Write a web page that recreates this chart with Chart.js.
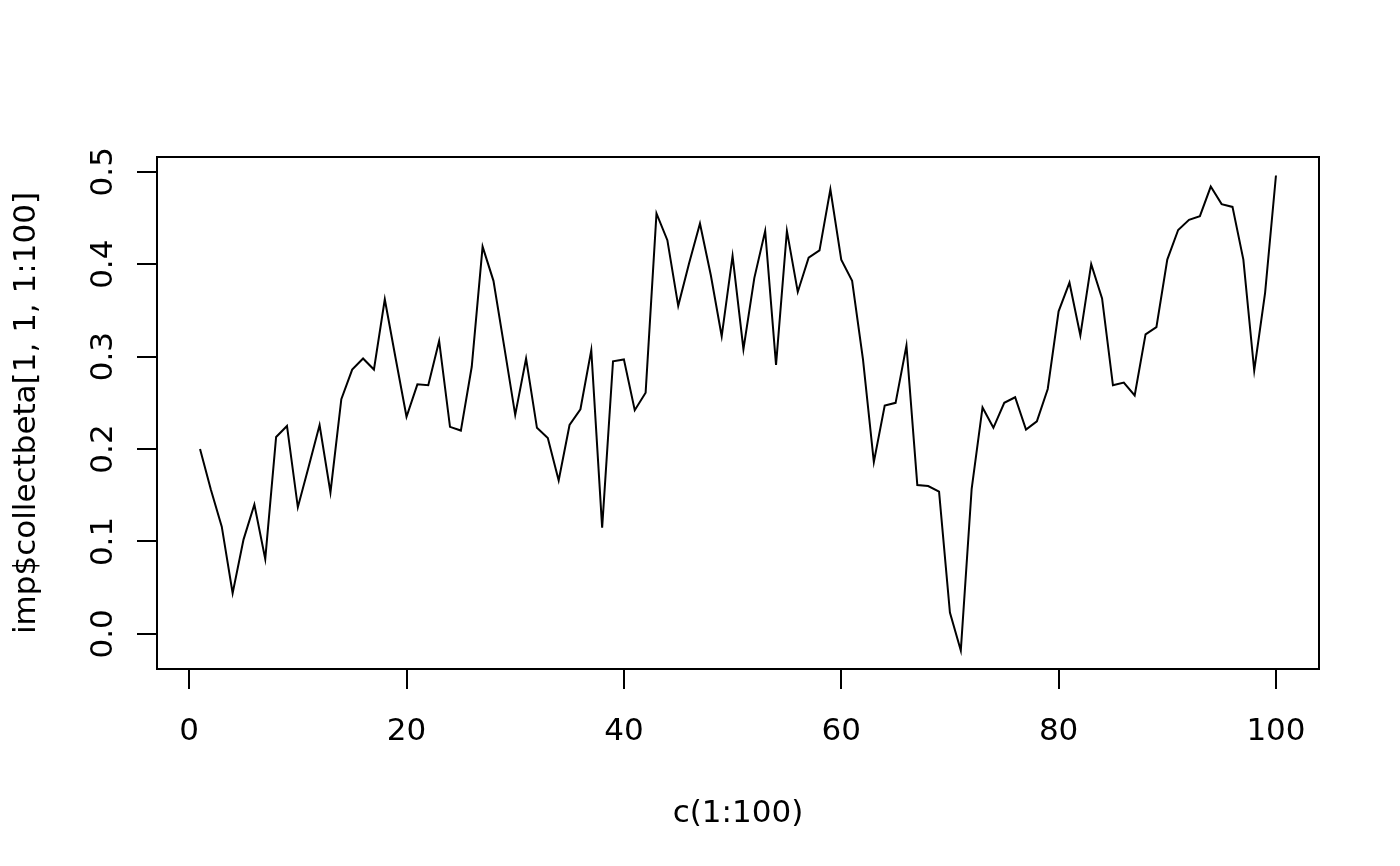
<!DOCTYPE html>
<html>
<head>
<meta charset="utf-8">
<script src="https://cdn.jsdelivr.net/npm/chart.js@4"></script>
<style>
  html, body { margin: 0; padding: 0; background: #fff; }
  canvas { display: block; }
</style>
</head>
<body>
<canvas id="betaChart" width="1400" height="866"></canvas>
<script>
// index c(1:100)
const xIndex = [
  1, 2, 3, 4, 5, 6, 7, 8, 9, 10, 11, 12, 13, 14, 15, 16, 17, 18, 19, 20,
  21, 22, 23, 24, 25, 26, 27, 28, 29, 30, 31, 32, 33, 34, 35, 36, 37, 38, 39, 40,
  41, 42, 43, 44, 45, 46, 47, 48, 49, 50, 51, 52, 53, 54, 55, 56, 57, 58, 59, 60,
  61, 62, 63, 64, 65, 66, 67, 68, 69, 70, 71, 72, 73, 74, 75, 76, 77, 78, 79, 80,
  81, 82, 83, 84, 85, 86, 87, 88, 89, 90, 91, 92, 93, 94, 95, 96, 97, 98, 99, 100
];

// imp$collectbeta[1, 1, 1:100]
const betaValues = [
  0.200, 0.156, 0.116, 0.044, 0.102, 0.140, 0.081, 0.213, 0.225, 0.137,
  0.181, 0.226, 0.153, 0.254, 0.286, 0.298, 0.286, 0.362, 0.298, 0.235,
  0.270, 0.269, 0.317, 0.224, 0.220, 0.289, 0.419, 0.382, 0.310, 0.237,
  0.298, 0.223, 0.212, 0.166, 0.226, 0.243, 0.307, 0.115, 0.295, 0.297,
  0.242, 0.261, 0.455, 0.426, 0.355, 0.401, 0.444, 0.388, 0.322, 0.409,
  0.308, 0.385, 0.436, 0.291, 0.436, 0.370, 0.407, 0.415, 0.481, 0.405,
  0.382, 0.297, 0.186, 0.247, 0.250, 0.312, 0.161, 0.160, 0.154, 0.023,
  -0.018, 0.157, 0.245, 0.223, 0.250, 0.256, 0.221, 0.230, 0.265, 0.349,
  0.380, 0.323, 0.400, 0.363, 0.269, 0.272, 0.258, 0.324, 0.332, 0.405,
  0.437, 0.448, 0.452, 0.484, 0.465, 0.462, 0.405, 0.285, 0.369, 0.496
];

const xTicks = [0, 20, 40, 60, 80, 100];
const yTicks = [0.0, 0.1, 0.2, 0.3, 0.4, 0.5];
const xTitle = 'c(1:100)';
const yTitle = 'imp$collectbeta[1, 1, 1:100]';

const FONT = '31px "DejaVu Sans"';

// Axes dessinés à la main, façon R (boîte + ticks vers l'extérieur)
const rAxes = {
    id: 'rAxes',
    afterDraw(chart) {
        const c = chart.ctx;
        const area = chart.chartArea;
        const xs = chart.scales.x;
        const ys = chart.scales.y;
        c.save();
        c.strokeStyle = '#000';
        c.fillStyle = '#000';
        c.lineWidth = 2;

        // boîte
        c.strokeRect(area.left, area.top, area.right - area.left, area.bottom - area.top);

        // axe x
        c.beginPath();
        xTicks.forEach(v => {
            const px = Math.round(xs.getPixelForValue(v));
            c.moveTo(px, area.bottom);
            c.lineTo(px, area.bottom + 20);
        });
        c.stroke();
        c.font = FONT;
        c.textAlign = 'center';
        c.textBaseline = 'alphabetic';
        xTicks.forEach(v => {
            c.fillText(String(v), xs.getPixelForValue(v), area.bottom + 71);
        });
        c.fillText(xTitle, (area.left + area.right) / 2, area.bottom + 153);

        // axe y
        c.beginPath();
        yTicks.forEach(v => {
            const py = Math.round(ys.getPixelForValue(v));
            c.moveTo(area.left, py);
            c.lineTo(area.left - 20, py);
        });
        c.stroke();
        yTicks.forEach(v => {
            c.save();
            c.translate(area.left - 45, ys.getPixelForValue(v));
            c.rotate(-Math.PI / 2);
            c.fillText(v.toFixed(1), 0, 0);
            c.restore();
        });
        c.save();
        c.translate(35, (area.top + area.bottom) / 2);
        c.rotate(-Math.PI / 2);
        c.fillText(yTitle, 0, 0);
        c.restore();

        c.restore();
    }
};

const ctx = document.getElementById('betaChart').getContext('2d');
const betaChart = new Chart(ctx, {
    type: 'line',
    data: {
        datasets: [{
            label: yTitle,
            data: xIndex.map((x, i) => ({ x: x, y: betaValues[i] })),
            borderColor: '#000',
            borderWidth: 2,
            pointRadius: 0,
            tension: 0,
            fill: false
        }]
    },
    options: {
        responsive: false,
        animation: false,
        devicePixelRatio: 1,
        layout: {
            padding: { left: 157, right: 81, top: 157, bottom: 197 }
        },
        plugins: {
            legend: { display: false },
            tooltip: { enabled: false }
        },
        scales: {
            x: { type: 'linear', min: -2.96, max: 103.96, display: false },
            y: { type: 'linear', min: -0.038, max: 0.516, display: false }
        }
    },
    plugins: [rAxes]
});
</script>
</body>
</html>
